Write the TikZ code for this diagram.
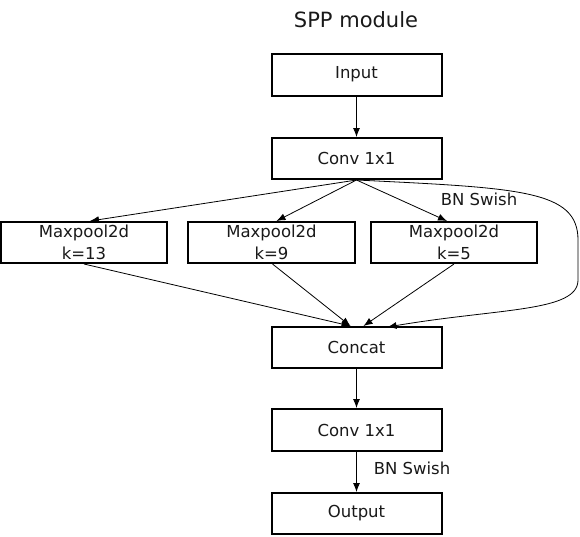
\documentclass[tikz,border=0pt]{standalone}
\usepackage{fontspec}
\setmainfont{DejaVu Sans}
\usetikzlibrary{arrows.meta}
\begin{document}
\begin{tikzpicture}[x=1pt,y=-1pt,
 box/.style={draw, line width=2pt, minimum width=170pt, minimum height=41pt, inner sep=0pt, font=\fontsize{16.5}{22}\selectfont, align=center, text=black!90},
 mp/.style={box, minimum width=166pt},
 arr/.style={-{Latex[length=9pt,width=7pt]}, line width=0.8pt},
 lab/.style={font=\fontsize{16.5}{18}\selectfont, text=black!90, inner sep=0pt}]
\useasboundingbox (0,0) rectangle (580,536);
\node[font=\fontsize{21}{24}\selectfont, text=black!90] (title) at (356,20) {SPP module};
\node[box, minimum height=42pt] (in) at (356.5,74.5) {Input};
\node[box] (conv1) at (356.5,158.5) {Conv 1x1};
\node[mp] (mp13) at (84,242.5) {Maxpool2d\\k=13};
\node[mp, minimum width=167pt] (mp9) at (271.5,242.5) {Maxpool2d\\k=9};
\node[mp] (mp5) at (454,242.5) {Maxpool2d\\k=5};
\node[box] (concat) at (356.5,347.5) {Concat};
\node[box, minimum height=42pt] (conv2) at (356.5,430) {Conv 1x1};
\node[box] (out) at (356.5,513.5) {Output};
\node[lab] (bn1) at (479,199) {BN Swish};
\node[lab] (bn2) at (412,468) {BN Swish};
\draw[arr] (in) -- (conv1);
\draw[arr] (conv1.south) -- ([xshift=6pt]mp13.north);
\draw[arr] (conv1.south) -- ([xshift=5pt]mp9.north);
\draw[arr] (conv1.south) -- ([xshift=-7pt]mp5.north);
\draw[arr] (mp13.south) -- ([xshift=-6pt]concat.north);
\draw[arr] ([xshift=1pt]mp9.south) -- ([xshift=-6pt]concat.north);
\draw[arr] (mp5.south) -- ([xshift=7pt]concat.north);
\draw[arr] (conv1.south) .. controls (520,188) and (578,190) .. (578,240) -- (578,280) .. controls (578,312) and (500,308) .. ([xshift=31pt,yshift=-1pt]concat.north);
\draw[arr] (concat) -- (conv2);
\draw[arr] (conv2) -- (out);
\end{tikzpicture}
\end{document}
